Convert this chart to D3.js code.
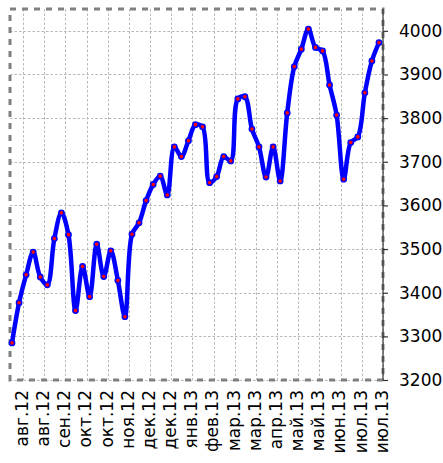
<!DOCTYPE html>
<html><head><meta charset="utf-8">
<script src="https://cdn.jsdelivr.net/npm/d3@7"></script>
<style>
body{margin:0;background:#fff}
svg{display:block}
text{font-family:"DejaVu Sans",sans-serif}
</style>
</head><body>
<svg id="chart" width="443" height="463"></svg>
<script>
// ---- data ----
const dates = [
  "2012-07-25","2012-08-01","2012-08-08","2012-08-15","2012-08-22","2012-08-29",
  "2012-09-05","2012-09-12","2012-09-19","2012-09-26","2012-10-03","2012-10-10",
  "2012-10-17","2012-10-24","2012-10-31","2012-11-07","2012-11-14","2012-11-21",
  "2012-11-28","2012-12-05","2012-12-12","2012-12-19","2012-12-26","2013-01-02",
  "2013-01-09","2013-01-16","2013-01-23","2013-01-30","2013-02-06","2013-02-13",
  "2013-02-20","2013-02-27","2013-03-06","2013-03-13","2013-03-20","2013-03-27",
  "2013-04-03","2013-04-10","2013-04-17","2013-04-24","2013-05-01","2013-05-08",
  "2013-05-15","2013-05-22","2013-05-29","2013-06-05","2013-06-12","2013-06-19",
  "2013-06-26","2013-07-03","2013-07-10","2013-07-17","2013-07-24"
];
const values = [
  3285, 3377, 3441, 3493, 3436, 3418, 3524, 3583, 3533, 3359,
  3460, 3391, 3511, 3437, 3496, 3428, 3345, 3534, 3560, 3611,
  3648, 3667, 3624, 3734, 3712, 3748, 3785, 3780, 3652, 3666,
  3712, 3702, 3844, 3849, 3775, 3734, 3665, 3734, 3656, 3812,
  3918, 3958, 4004, 3962, 3954, 3876, 3807, 3660, 3744, 3757,
  3858, 3931, 3973
];
const tickDates = [
  "2012-08-05","2012-08-26","2012-09-16","2012-10-07","2012-10-28","2012-11-18",
  "2012-12-09","2012-12-30","2013-01-20","2013-02-10","2013-03-03","2013-03-24",
  "2013-04-14","2013-05-05","2013-05-26","2013-06-16","2013-07-07","2013-07-28"
];
const tickLabels = [
  "авг.12","авг.12","сен.12","окт.12","окт.12","ноя.12","дек.12","дек.12","янв.13",
  "фев.13","мар.13","мар.13","апр.13","май.13","май.13","июн.13","июл.13","июл.13"
];
const yTicks = [3200, 3300, 3400, 3500, 3600, 3700, 3800, 3900, 4000];
const xDomain = ["2012-07-23", "2013-07-28"];
const yDomain = [3200, 4050];

// ---- drawing ----
const parse = d3.timeParse("%Y-%m-%d");
const data = dates.map((d, i) => ({date: parse(d), value: values[i]}));
const tDates = tickDates.map(parse);

const L = 10, R = 383, T = 9, B = 380;
const svg = d3.select("#chart");

const x = d3.scaleTime().domain(xDomain.map(parse)).range([L, R]);
const y = d3.scaleLinear().domain(yDomain).range([B, T]);

// grid
const grid = svg.append("g").attr("stroke", "#b8b8b8").attr("stroke-width", 1)
  .attr("stroke-dasharray", "2.5,2");
grid.selectAll(".vg").data(tDates).join("line")
  .attr("x1", d => Math.round(x(d)) + 0.5).attr("x2", d => Math.round(x(d)) + 0.5)
  .attr("y1", T).attr("y2", B);
grid.selectAll(".hg").data(yTicks).join("line")
  .attr("x1", L).attr("x2", R)
  .attr("y1", d => Math.round(y(d)) + 0.5).attr("y2", d => Math.round(y(d)) + 0.5);

// frame
svg.append("rect").attr("x", L).attr("y", T).attr("width", R - L).attr("height", B - T)
  .attr("fill", "none").attr("stroke", "#808080").attr("stroke-width", 3)
  .attr("stroke-dasharray", "6,6");

// x axis labels
const xAxis = d3.axisBottom(x).tickValues(tDates).tickSize(0).tickPadding(0)
  .tickFormat((d, i) => tickLabels[i]);
const gx = svg.append("g").attr("transform", `translate(0,${B})`).call(xAxis);
gx.select(".domain").remove();
gx.selectAll("text")
  .attr("font-size", 17).attr("fill", "#000")
  .attr("text-anchor", "end")
  .attr("transform", "rotate(-90)")
  .attr("x", -10).attr("y", 0).attr("dy", "0.25em");

// y axis right
const yAxis = d3.axisRight(y).tickValues(yTicks).tickSize(5).tickPadding(11)
  .tickFormat(d3.format("d"));
const gy = svg.append("g").attr("transform", `translate(${R},0)`).call(yAxis);
gy.select(".domain").attr("stroke", "#333").attr("stroke-width", 1.2)
  .attr("d", `M0,${T}V${B}`);
gy.selectAll(".tick line").attr("stroke", "#333").attr("stroke-width", 1.2);
gy.selectAll("text").attr("font-size", 17).attr("fill", "#000")
  .attr("font-family", "DejaVu Sans, sans-serif");

// line
const line = d3.line().x(d => x(d.date)).y(d => y(d.value)).curve(d3.curveCatmullRom);
svg.append("path").datum(data).attr("d", line)
  .attr("fill", "none").attr("stroke", "#0000ff").attr("stroke-width", 4.5)
  .attr("stroke-linejoin", "round").attr("stroke-linecap", "round");

// markers
svg.append("g").selectAll("circle").data(data).join("circle")
  .attr("cx", d => x(d.date)).attr("cy", d => y(d.value)).attr("r", 2.6)
  .attr("fill", "#ff0000").attr("stroke", "#0000ff").attr("stroke-width", 1.6);
</script>
</body></html>
